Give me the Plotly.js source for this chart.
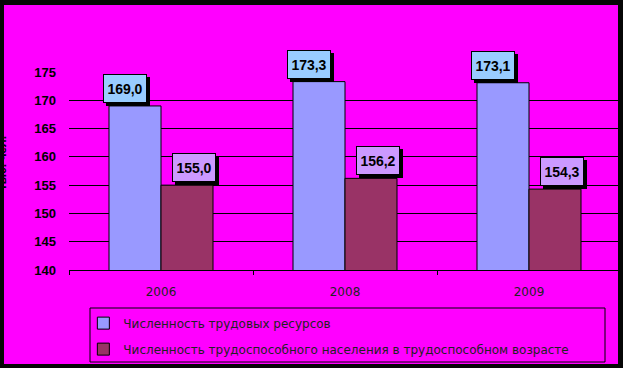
<!DOCTYPE html>
<html><head><meta charset="utf-8">
<script src="https://cdn.plot.ly/plotly-3.0.1.min.js"></script>
<style>
html,body{margin:0;padding:0;background:#FF00FF;overflow:hidden}
#chart{position:absolute;left:0;top:0;width:623px;height:368px}
.b{position:absolute;background:#060606;z-index:10}
</style></head><body>
<div id="chart"></div>
<div class="b" style="left:0;top:0;width:623px;height:5px"></div>
<div class="b" style="left:0;top:0;width:4px;height:368px"></div>
<div class="b" style="left:618px;top:0;width:5px;height:368px"></div>
<div class="b" style="left:0;top:364px;width:623px;height:4px"></div>
<script>
const years = ['2006', '2008', '2009'];
const laborResources = [169.0, 173.3, 173.1];
const ableBodied = [155.0, 156.2, 154.3];
const seriesNames = ['Численность трудовых ресурсов', 'Численность трудоспособного населения в трудоспособном возрасте'];
const yTicks = [140, 145, 150, 155, 160, 165, 170, 175];
const yTitle = 'тыс. чел.';

const barColors = ['#9999FF', '#993366'];
const labelColors = ['#99CCFF', '#CC99FF'];
const labelShift = [-36, 33];
const seriesValues = [laborResources, ableBodied];

const traces = seriesValues.map((vals, s) => ({
  type: 'bar', x: years, y: vals, name: seriesNames[s],
  legendgroup: 'g' + s,
  marker: {color: barColors[s], line: {color: '#000', width: 1}},
  hoverinfo: 'none'
}));

const fmt = v => v.toFixed(1).replace('.', ',');
const annotations = [];
seriesValues.forEach((vals, s) => {
  vals.forEach((v, i) => {
    const base = {x: years.indexOf(years[i]), y: v, xref: 'x', yref: 'y', yanchor: 'bottom', xanchor: 'center',
      showarrow: false, text: '<b>' + fmt(v) + '</b>', width: 42, height: 27, borderwidth: 1, borderpad: 0,
      font: {family: 'Liberation Sans, Arial', size: 14, color: '#000'}};
    annotations.push(Object.assign({}, base, {text: ' ', xshift: labelShift[s] + 3, yshift: 0, bgcolor: '#000', bordercolor: '#000'}));
    annotations.push(Object.assign({}, base, {xshift: labelShift[s], yshift: 3, bgcolor: labelColors[s], bordercolor: '#000'}));
  });
});
annotations.push({xref: 'paper', yref: 'paper', x: (2 - 69) / 552, y: 0.54, xanchor: 'center', yanchor: 'middle',
  textangle: -90, showarrow: false, text: '<b>' + yTitle + '</b>',
  font: {family: 'Liberation Sans, Arial', size: 12, color: '#000'}});

const layout = {
  width: 623, height: 368,
  margin: {l: 69, r: 2, t: 72, b: 98},
  paper_bgcolor: '#FF00FF', plot_bgcolor: '#FF00FF',
  barmode: 'group', bargap: 0.4348, bargroupgap: 0,
  font: {family: 'DejaVu Sans, Arial', color: '#111'},
  xaxis: {type: 'category', range: [-0.5, years.length - 0.5], autorange: false,
    showline: true, linecolor: '#000', linewidth: 1,
    ticks: 'outside', tickson: 'boundaries', ticklen: 4, tickcolor: '#000',
    showgrid: false, ticklabelstandoff: 11, tickangle: 0,
    tickfont: {family: 'DejaVu Sans, Arial', size: 12, color: '#222'}},
  yaxis: {range: [140, 175], autorange: false, tickvals: yTicks, ticktext: yTicks.map(String),
    showgrid: true, gridcolor: '#000', gridwidth: 1, zeroline: false, showline: false,
    ticks: '', ticklabelstandoff: 12,
    tickfont: {family: 'Liberation Sans, Arial', size: 13, color: '#000', weight: 'bold'}},
  showlegend: true,
  legend: {orientation: 'v', x: 0.026, xanchor: 'left', y: -0.195, yanchor: 'top',
    bgcolor: 'rgba(0,0,0,0)', borderwidth: 0, tracegroupgap: 7, itemwidth: 30,
    font: {family: 'DejaVu Sans, Arial', size: 12, color: '#222'}},
  shapes: [{type: 'rect', xref: 'paper', yref: 'paper',
    x0: (90 - 69) / 552, x1: (605 - 69) / 552, y0: (270 - 362) / 198, y1: (270 - 308) / 198,
    line: {color: '#000', width: 1}, fillcolor: 'rgba(0,0,0,0)'}],
  annotations: annotations
};
Plotly.newPlot('chart', traces, layout, {displayModeBar: false, staticPlot: true});
</script></body></html>
